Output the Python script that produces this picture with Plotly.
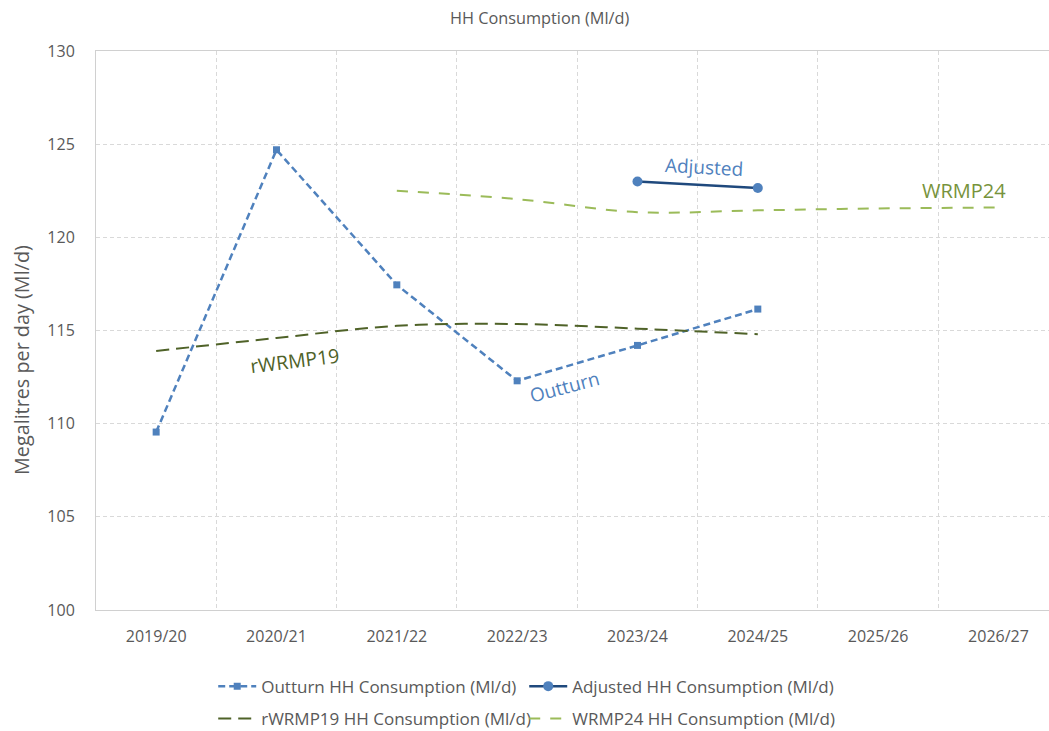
import plotly.graph_objects as go

years = ["2019/20", "2020/21", "2021/22", "2022/23", "2023/24", "2024/25", "2025/26", "2026/27"]

outturn_years = ["2019/20", "2020/21", "2021/22", "2022/23", "2023/24", "2024/25"]
outturn = [109.55, 124.7, 117.45, 112.3, 114.2, 116.15]

adjusted_years = ["2023/24", "2024/25"]
adjusted = [123.0, 122.65]

rwrmp19_years = ["2019/20", "2020/21", "2021/22", "2022/23", "2023/24", "2024/25"]
rwrmp19 = [113.9, 114.6, 115.25, 115.35, 115.1, 114.8]

wrmp24_years = ["2021/22", "2022/23", "2023/24", "2024/25", "2025/26", "2026/27"]
wrmp24 = [122.5, 122.05, 121.35, 121.45, 121.55, 121.6]

FONT = "Open Sans"
GREY = "#595959"

fig = go.Figure()

fig.add_trace(go.Scatter(
    x=outturn_years, y=outturn, name="Outturn HH Consumption (Ml/d)",
    mode="lines+markers",
    line=dict(color="#4f81bd", width=2.5, dash="7px,4px"),
    marker=dict(symbol="square", size=7, color="#4f81bd"),
    legend="legend",
))
fig.add_trace(go.Scatter(
    x=adjusted_years, y=adjusted, name="Adjusted HH Consumption (Ml/d)",
    mode="lines+markers",
    line=dict(color="#1f497d", width=2.5),
    marker=dict(symbol="circle", size=10, color="#4f81bd"),
    legend="legend",
))
fig.add_trace(go.Scatter(
    x=rwrmp19_years, y=rwrmp19, name="rWRMP19 HH Consumption (Ml/d)",
    mode="lines",
    line=dict(color="#4f6228", width=2, dash="13px,7px", shape="spline"),
    legend="legend2",
))
fig.add_trace(go.Scatter(
    x=wrmp24_years, y=wrmp24, name="WRMP24 HH Consumption (Ml/d)",
    mode="lines",
    line=dict(color="#9bbb59", width=2, dash="11px,10px", shape="spline"),
    legend="legend2",
))

annots = [
    dict(text="Adjusted", x=4.55, y=123.8, color="#4f81bd", size=19, angle=3),
    dict(text="WRMP24", x=6.71, y=122.52, color="#77933c", size=20, angle=0),
    dict(text="rWRMP19", x=1.15, y=113.37, color="#4f6228", size=19.5, angle=-7),
    dict(text="Outturn", x=3.39, y=111.97, color="#4f81bd", size=19, angle=-15),
]
for a in annots:
    fig.add_annotation(
        x=a["x"], y=a["y"], xref="x", yref="y", text=a["text"], showarrow=False,
        textangle=a["angle"], font=dict(family=FONT, size=a["size"], color=a["color"]),
    )

# chart title and y-axis title
fig.add_annotation(
    text="HH Consumption (Ml/d)", xref="paper", yref="paper",
    x=(539 - 96) / 953, y=(610 - 18) / 559, xanchor="center", yanchor="middle",
    showarrow=False, font=dict(family=FONT, size=16.3, color=GREY),
)
fig.add_annotation(
    text="Megalitres per day (Ml/d)", xref="paper", yref="paper",
    x=(21 - 96) / 953, y=(610 - 360) / 559, xanchor="center", yanchor="middle",
    textangle=-90, showarrow=False, font=dict(family=FONT, size=19.8, color=GREY),
)

legend_common = dict(
    orientation="h", xanchor="left", yanchor="middle",
    entrywidth=258, entrywidthmode="pixels", itemwidth=38,
    font=dict(family=FONT, size=17, color=GREY),
    bgcolor="rgba(0,0,0,0)", traceorder="normal",
)

fig.update_layout(
    width=1049, height=731,
    margin=dict(l=96, r=0, t=51, b=121, autoexpand=False),
    paper_bgcolor="white", plot_bgcolor="white",
    font=dict(family=FONT, color=GREY),
    legend=dict(x=0.123, y=-0.137, **legend_common),
    legend2=dict(x=0.123, y=-0.195, **legend_common),
)

fig.update_xaxes(
    type="category", categoryorder="array", categoryarray=years,
    range=[-0.5, 7.42], tickson="boundaries", ticks="",
    showgrid=True, gridcolor="#d9d9d9", gridwidth=1, griddash="4px,3px",
    showline=True, linecolor="#d0d0d0", linewidth=1, mirror=True,
    tickfont=dict(family=FONT, size=16, color=GREY), ticklabelstandoff=12,
    zeroline=False,
)
fig.update_yaxes(
    range=[100, 130], dtick=5, tick0=100, ticks="",
    showgrid=True, gridcolor="#d9d9d9", gridwidth=1, griddash="4px,3px",
    showline=True, linecolor="#d0d0d0", linewidth=1,
    tickfont=dict(family=FONT, size=16, color=GREY), ticklabelstandoff=17,
    zeroline=False,
)

fig.write_html(
    "out.html",
    config={"displayModeBar": False},
    post_script="document.body.style.margin='0';document.body.style.overflow='hidden';",
)
